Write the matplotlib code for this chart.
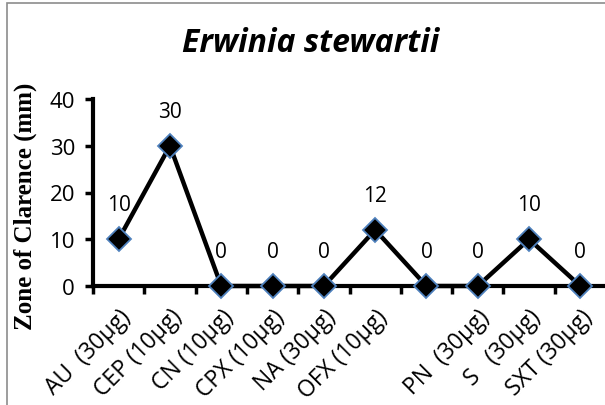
import matplotlib.pyplot as plt
from matplotlib.patches import Rectangle

categories = ['AU  (30µg)', 'CEP (10µg)', 'CN (10µg)', 'CPX (10µg)', 'NA (30µg)',
              'OFX (10µg)', '', 'PN  (30µg)', 'S   (30µg)', 'SXT (30µg)']
values = [10, 30, 0, 0, 0, 12, 0, 0, 10, 0]

fig = plt.figure(figsize=(6.05, 4.06), dpi=100)
fig.patches.append(Rectangle((7 / 605, -0.1), 1.2, (403 + 40) / 406,
                             transform=fig.transFigure, fill=False,
                             edgecolor='#8c8c8c', linewidth=1.2))

ax = fig.add_axes([93 / 605, 119 / 406, 1 - 93 / 605, 187 / 406])
x = list(range(len(values)))
ax.plot(x, values, color='black', linewidth=3.2, marker='D', markersize=12,
        markerfacecolor='black', markeredgecolor='#4f81bd', markeredgewidth=1.3,
        clip_on=False, zorder=3)

for xi, v in zip(x, values):
    ax.annotate(str(v), (xi, v), xytext=(0, 25), textcoords='offset points',
                ha='center', va='center', fontsize=15, family='Open Sans')

ax.set_xlim(-0.5, 9.48)
ax.set_ylim(0, 40)
ax.set_yticks([0, 10, 20, 30, 40])
ax.set_xticks([i - 0.5 for i in range(10)])
ax.set_xticklabels([])
ax.set_xticks(x, minor=True)
ax.set_xticklabels(categories, minor=True, rotation=45, ha='right',
                   rotation_mode='anchor', fontsize=16.5, family='Open Sans')
ax.tick_params(axis='x', which='minor', length=0, pad=13)
ax.tick_params(axis='x', which='major', direction='out', length=6, width=2.5)
ax.tick_params(axis='y', direction='out', length=6, width=2.5, labelsize=16, pad=7)
for lab in ax.get_yticklabels():
    lab.set_family('Open Sans')

for s in ['top', 'right']:
    ax.spines[s].set_visible(False)
ax.spines['left'].set_linewidth(3)
ax.spines['bottom'].set_linewidth(3)

fig.text(25 / 605, 1 - 206 / 406, 'Zone of Clarence (mm)', rotation=90,
         ha='center', va='center', family='Liberation Serif', fontweight='bold',
         fontsize=18)
fig.text(311 / 605, 1 - 43 / 406, 'Erwinia stewartii', ha='center', va='center',
         fontsize=23, fontweight='bold', style='italic', family='Open Sans')

fig.savefig('out.png', dpi=100)
